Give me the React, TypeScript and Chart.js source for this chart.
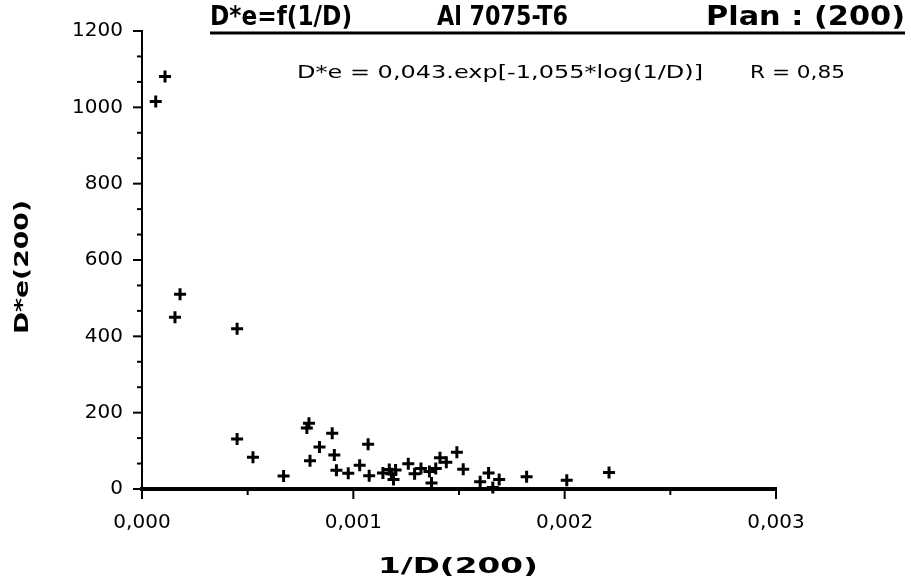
import React, { useEffect, useRef } from "react";
import { Chart, registerables } from "chart.js";

Chart.register(...registerables);

// ---- data ----
const X_VALUES = [
  0.000065, 0.000109, 0.000156, 0.00018, 0.00045, 0.00045, 0.000525, 0.00067,
  0.00078, 0.00079, 0.000795, 0.00084, 0.0009, 0.00091, 0.00092, 0.000976,
  0.00103, 0.00107, 0.001075, 0.00114, 0.00117, 0.00118, 0.0012, 0.00119,
  0.00126, 0.00129, 0.00132, 0.00136, 0.00137, 0.00139, 0.00141, 0.00144,
  0.00149, 0.00152, 0.0016, 0.00164, 0.00166, 0.00169, 0.00182, 0.00201, 0.00221,
];
const Y_VALUES = [
  1015, 1081, 450, 510, 420, 131, 83, 34,
  160, 172, 74, 110, 146, 89, 49, 41,
  62, 117, 35, 42, 51, 40, 50, 25,
  66, 40, 54, 46, 16, 54, 82, 70,
  96, 52, 19, 42, 4, 25, 32, 23, 43,
];

const X_MAJOR_TICKS = [0, 0.001, 0.002, 0.003];
const X_MINOR_TICKS = [0.0005, 0.0015, 0.0025];
const Y_MAJOR_TICKS = [0, 200, 400, 600, 800, 1000, 1200];
const Y_MINOR_TICKS = [
  66.67, 133.33, 266.67, 333.33, 466.67, 533.33, 666.67, 733.33, 866.67, 933.33,
  1066.67, 1133.33,
];

const TITLE_PARTS = ["D*e=f(1/D)", "Al 7075-T6", "Plan : (200)"];
const EQUATION = "D*e = 0,043.exp[-1,055*log(1/D)]";
const R_TEXT = "R = 0,85";
const X_TITLE = "1/D(200)";
const Y_TITLE = "D*e(200)";

const fmt = (v: number) => v.toFixed(3).replace(".", ",");

function fitText(
  ctx: CanvasRenderingContext2D,
  text: string,
  left: number,
  cy: number,
  width: number,
  font: string
) {
  ctx.save();
  ctx.font = font;
  const m = ctx.measureText(text).width;
  ctx.translate(left, cy);
  ctx.scale(width / m, 1);
  ctx.textAlign = "left";
  ctx.textBaseline = "middle";
  ctx.fillStyle = "#000";
  ctx.fillText(text, 0, 0);
  ctx.restore();
}

const decorPlugin = {
  id: "decor",
  afterDraw(chart: any) {
    const ctx: CanvasRenderingContext2D = chart.ctx;
    const xs = chart.scales.x;
    const ys = chart.scales.y;
    const area = chart.chartArea;
    ctx.save();
    ctx.strokeStyle = "#000";
    ctx.lineCap = "butt";
    // y ticks
    ctx.lineWidth = 2;
    Y_MAJOR_TICKS.forEach((v) => {
      const p = ys.getPixelForValue(v);
      ctx.beginPath();
      ctx.moveTo(area.left - 9, p);
      ctx.lineTo(area.left, p);
      ctx.stroke();
    });
    Y_MINOR_TICKS.forEach((v) => {
      const p = ys.getPixelForValue(v);
      ctx.beginPath();
      ctx.moveTo(area.left - 5, p);
      ctx.lineTo(area.left, p);
      ctx.stroke();
    });
    // x ticks
    X_MAJOR_TICKS.forEach((v) => {
      const p = xs.getPixelForValue(v);
      ctx.beginPath();
      ctx.moveTo(p, area.bottom);
      ctx.lineTo(p, area.bottom + 10);
      ctx.stroke();
    });
    X_MINOR_TICKS.forEach((v) => {
      const p = xs.getPixelForValue(v);
      ctx.beginPath();
      ctx.moveTo(p, area.bottom);
      ctx.lineTo(p, area.bottom + 6);
      ctx.stroke();
    });

    // title
    const bold = "bold 27px 'DejaVu Sans'";
    fitText(ctx, TITLE_PARTS[0], 210, 18, 142, bold);
    fitText(ctx, TITLE_PARTS[1], 437, 18, 131, bold);
    fitText(ctx, TITLE_PARTS[2], 706, 18, 199, bold);
    ctx.lineWidth = 3;
    ctx.beginPath();
    ctx.moveTo(210, 33);
    ctx.lineTo(905, 33);
    ctx.stroke();

    // equation
    const reg = "18px 'DejaVu Sans'";
    fitText(ctx, EQUATION, 297, 73, 406, reg);
    fitText(ctx, R_TEXT, 750, 73, 95, reg);

    // x title
    fitText(ctx, X_TITLE, 378, 567, 160, "bold 22px 'DejaVu Sans'");

    // y title (rotated)
    ctx.save();
    ctx.translate(23, 334);
    ctx.rotate(-Math.PI / 2);
    fitText(ctx, Y_TITLE, 0, 0, 134, "bold 20px 'DejaVu Sans'");
    ctx.restore();

    ctx.restore();
  },
};

export default function App() {
  const ref = useRef<HTMLCanvasElement>(null);
  useEffect(() => {
    if (!ref.current) return;
    const data = X_VALUES.map((x, i) => ({ x, y: Y_VALUES[i] }));
    const chart = new Chart(ref.current, {
      type: "scatter",
      data: {
        datasets: [
          {
            data,
            pointStyle: "cross",
            pointRadius: 6,
            pointBorderWidth: 3,
            borderColor: "#000",
            backgroundColor: "#000",
            clip: false as any,
          },
        ],
      },
      options: {
        animation: false,
        responsive: false,
        devicePixelRatio: 1,
        layout: { padding: { left: 0, top: 25, right: 135, bottom: 0 } },
        plugins: { legend: { display: false }, tooltip: { enabled: false }, title: { display: false } },
        scales: {
          x: {
            type: "linear",
            min: 0,
            max: 0.003,
            afterBuildTicks: (s: any) => {
              s.ticks = X_MAJOR_TICKS.map((v) => ({ value: v }));
            },
            afterFit: (s: any) => {
              s.height = 97;
            },
            grid: { display: false, drawTicks: false },
            border: { display: true, color: "#000", width: 4 },
            ticks: {
              autoSkip: false,
              maxRotation: 0,
              padding: 22,
              color: "#000",
              font: { family: "'DejaVu Sans'", size: 20 },
              callback: (v: any) => fmt(Number(v)),
            },
          },
          y: {
            type: "linear",
            min: 0,
            max: 1200,
            afterBuildTicks: (s: any) => {
              s.ticks = Y_MAJOR_TICKS.map((v) => ({ value: v }));
            },
            afterFit: (s: any) => {
              s.width = 142;
            },
            grid: { display: false, drawTicks: false },
            border: { display: true, color: "#000", width: 2 },
            ticks: {
              autoSkip: false,
              padding: 19,
              color: "#000",
              font: { family: "'DejaVu Sans'", size: 20 },
              callback: (v: any) => String(v),
            },
          },
        },
      },
      plugins: [decorPlugin],
    });
    return () => chart.destroy();
  }, []);
  return (
    <div style={{ position: "fixed", left: 0, top: 0, width: 911, height: 586, background: "#fff" }}>
      <canvas ref={ref} width={911} height={586} style={{ width: 911, height: 586 }} />
    </div>
  );
}
